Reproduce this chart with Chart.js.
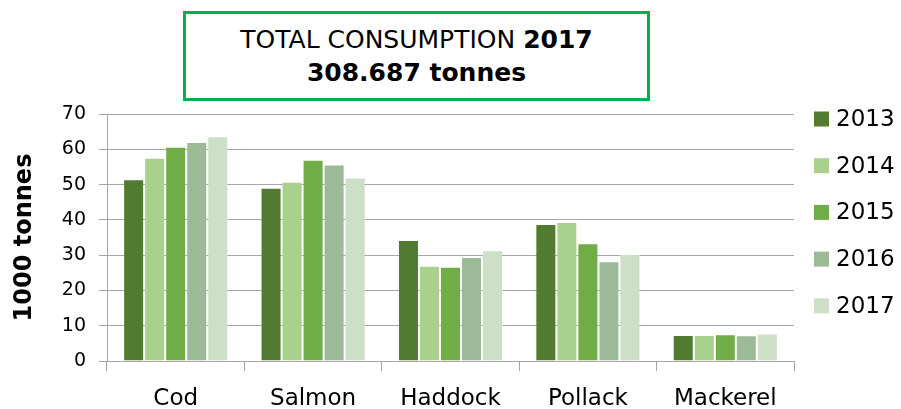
<!DOCTYPE html>
<html>
<head>
<meta charset="utf-8">
<script src="https://cdn.jsdelivr.net/npm/chart.js@4"></script>
<style>
  body { margin: 0; background: #fff; }
  #wrap { position: relative; width: 901px; height: 409px; }
  #titleBox {
    position: absolute; left: 183px; top: 11px; width: 467px; height: 90px;
    box-sizing: border-box; border: 3px solid #00b050; background: #fff;
    font-family: "DejaVu Sans", sans-serif; font-size: 25px; line-height: 33px;
    text-align: center; padding-top: 9px; color: #000;
  }
</style>
</head>
<body>
<div id="wrap">
  <canvas id="chart" width="901" height="409"></canvas>
  <div id="titleBox">TOTAL CONSUMPTION <b>2017</b><br><b>308.687 tonnes</b></div>
</div>
<script>
const species = ['Cod', 'Salmon', 'Haddock', 'Pollack', 'Mackerel'];
const years = ['2013', '2014', '2015', '2016', '2017'];

// 1000 tonnes
const y2013 = [51.5, 49.1, 34.3, 38.8, 7.4];
const y2014 = [57.6, 50.8, 27.0, 39.4, 7.4];
const y2015 = [60.7, 57.0, 26.7, 33.4, 7.6];
const y2016 = [62.1, 55.7, 29.5, 28.3, 7.3];
const y2017 = [63.7, 52.0, 31.4, 30.3, 7.8];

const yTicks = [0, 10, 20, 30, 40, 50, 60, 70];

const colors = ['#507b30', '#a9d18e', '#70ad47', '#9dba98', '#cddfc7'];
const font = '"DejaVu Sans", sans-serif';

// legend drawn at the right side like the original
const sideLegend = {
  id: 'sideLegend',
  afterDraw(chart) {
    const ctx = chart.ctx;
    ctx.save();
    ctx.font = '23px ' + font;
    ctx.textBaseline = 'middle';
    ctx.textAlign = 'left';
    chart.data.datasets.forEach((ds, i) => {
      const cy = 119 + i * 46.7;
      ctx.fillStyle = ds.backgroundColor;
      ctx.fillRect(814, cy - 7.5, 15, 15);
      ctx.fillStyle = '#000';
      ctx.fillText(ds.label, 836, cy + 1);
    });
    ctx.restore();
  }
};

const series = [y2013, y2014, y2015, y2016, y2017];

new Chart(document.getElementById('chart').getContext('2d'), {
  type: 'bar',
  data: {
    labels: species,
    datasets: series.map((vals, i) => ({
      label: years[i],
      data: vals,
      backgroundColor: colors[i],
      borderColor: 'rgba(255,255,255,0.2)',
      borderWidth: 1,
      borderSkipped: 'bottom',
      barPercentage: 1,
      categoryPercentage: 0.765
    }))
  },
  options: {
    responsive: false,
    animation: false,
    layout: { padding: { top: 114, right: 107, bottom: 1, left: 0 } },
    plugins: {
      legend: { display: false },
      tooltip: { enabled: false }
    },
    scales: {
      x: {
        afterFit(scale) { scale.height = 47; },
        grid: {
          offset: true,
          drawOnChartArea: false,
          drawTicks: true,
          tickLength: 10,
          color: '#a6a6a6'
        },
        border: { color: '#a6a6a6' },
        ticks: {
          color: '#000',
          padding: 17,
          font: { family: font, size: 23, lineHeight: 1 }
        }
      },
      y: {
        min: 0,
        max: 70,
        afterFit(scale) { scale.width = 107; },
        afterBuildTicks(scale) { scale.ticks = yTicks.map(v => ({ value: v })); },
        grid: { color: '#a6a6a6', tickLength: 8 },
        border: { color: '#a6a6a6' },
        ticks: {
          color: '#000',
          padding: 13,
          font: { family: font, size: 19 }
        },
        title: {
          display: true,
          text: '1000 tonnes',
          color: '#000',
          padding: { top: 10, bottom: 0 },
          font: { family: font, size: 24, weight: 'bold' }
        }
      }
    }
  },
  plugins: [sideLegend]
});
</script>
</body>
</html>
